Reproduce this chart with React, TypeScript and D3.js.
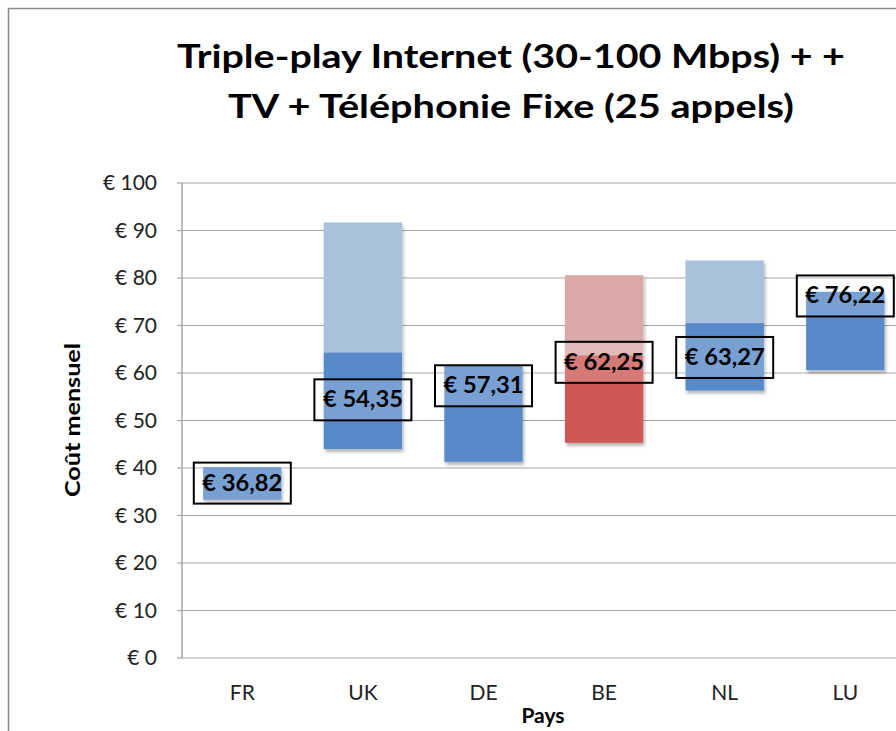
import React from "react";
import * as d3 from "d3";

const categories = ["FR", "UK", "DE", "BE", "NL", "LU"];
const minValues = [33.3, 44.0, 41.3, 45.3, 56.3, 60.6];
const midValues = [40.2, 64.3, 61.7, 63.7, 70.5, 77.1];
const maxValues = [40.2, 91.7, 61.7, 80.6, 83.7, 77.1];
const averages = [36.82, 54.35, 57.31, 62.25, 63.27, 76.22];
const highlighted = ["BE"];
const yTicks = [0, 10, 20, 30, 40, 50, 60, 70, 80, 90, 100];
const titleLines = ["Triple-play Internet (30-100 Mbps) + +", "TV + Téléphonie Fixe (25 appels)"];

const W = 896;
const H = 731;
const plotLeft = 182;
const step = 120.6;
const plotTop = 183;
const plotBottom = 658;

const font = "Lato, 'Open Sans', sans-serif";

export default function App() {
  const x = d3
    .scaleBand<string>()
    .domain(categories)
    .range([plotLeft, plotLeft + step * categories.length])
    .paddingInner(0.35)
    .paddingOuter(0.175);
  const y = d3.scaleLinear().domain([0, 100]).range([plotBottom, plotTop]);
  const bw = x.bandwidth();
  const fmt = (v: number) => "€ " + v.toFixed(2).replace(".", ",");

  const colors = (c: string) =>
    highlighted.includes(c)
      ? { dark: "#CD5855", light: "#DCA9A9" }
      : { dark: "#5889C8", light: "#A9C1DC" };

  return (
    <svg
      width={W}
      height={H}
      style={{ position: "absolute", left: 0, top: 0, background: "#fff" }}
      fontFamily={font}
    >
      <defs>
        <filter id="sh" x="-20%" y="-20%" width="150%" height="150%">
          <feDropShadow dx="1.5" dy="3" stdDeviation="1.8" floodColor="#000" floodOpacity="0.28" />
        </filter>
        <clipPath id="clipAll">
          <rect x={0} y={0} width={W} height={H} />
        </clipPath>
      </defs>
      <rect x={0} y={0} width={W} height={H} fill="#fff" />
      <rect x={8.5} y={8.5} width={W + 20} height={H + 20} fill="none" stroke="#8a8a8a" strokeWidth={1.5} />

      {titleLines.map((t, i) => (
        <text
          key={t}
          x={511}
          y={68 + i * 50}
          textAnchor="middle"
          fontSize={33}
          fontWeight="bold"
          fill="#000"
          textLength={i === 0 ? 668 : 566}
          lengthAdjust="spacingAndGlyphs"
        >
          {t}
        </text>
      ))}

      <g clipPath="url(#clipAll)">
        {yTicks.map((t) => (
          <g key={t}>
            <line x1={plotLeft} x2={W + 20} y1={y(t)} y2={y(t)} stroke="#a6a6a6" strokeWidth={1.2} />
            <line x1={plotLeft - 5} x2={plotLeft} y1={y(t)} y2={y(t)} stroke="#a6a6a6" strokeWidth={1.2} />
            <text x={157} y={y(t) + 7} textAnchor="end" fontSize={21} fill="#222">
              {"€ " + t}
            </text>
          </g>
        ))}
        <line x1={plotLeft} x2={plotLeft} y1={plotTop} y2={plotBottom} stroke="#a6a6a6" strokeWidth={1.5} />

        {categories.map((c, i) => {
          const col = colors(c);
          const x0 = x(c)!;
          return (
            <g key={c} filter="url(#sh)">
              {maxValues[i] > midValues[i] && (
                <rect x={x0} y={y(maxValues[i])} width={bw} height={y(midValues[i]) - y(maxValues[i])} fill={col.light} />
              )}
              <rect x={x0} y={y(midValues[i])} width={bw} height={y(minValues[i]) - y(midValues[i])} fill={col.dark} />
            </g>
          );
        })}

        {categories.map((c, i) => {
          const cx = x(c)! + bw / 2;
          const cy = y(averages[i]);
          return (
            <g key={c + "l"}>
              <rect x={cx - 48.5} y={cy - 20.5} width={97} height={41} fill="#fff" fillOpacity={0.2} stroke="#000" strokeWidth={2} />
              <text
                x={cx}
                y={cy + 7.5}
                textAnchor="middle"
                fontSize={22}
                fontWeight="bold"
                fill="#000"
                textLength={80}
                lengthAdjust="spacingAndGlyphs"
              >
                {fmt(averages[i])}
              </text>
            </g>
          );
        })}

        {categories.map((c) => (
          <text key={c + "x"} x={x(c)! + bw / 2} y={699.5} textAnchor="middle" fontSize={21} fill="#222">
            {c}
          </text>
        ))}
      </g>

      <text x={543} y={723} textAnchor="middle" fontSize={21} fontWeight="bold" fill="#000">
        Pays
      </text>
      <text
        transform={`translate(80,420) rotate(-90)`}
        textAnchor="middle"
        fontSize={20}
        fontWeight="bold"
        fill="#000"
        textLength={154}
        lengthAdjust="spacingAndGlyphs"
      >
        Coût mensuel
      </text>
    </svg>
  );
}
